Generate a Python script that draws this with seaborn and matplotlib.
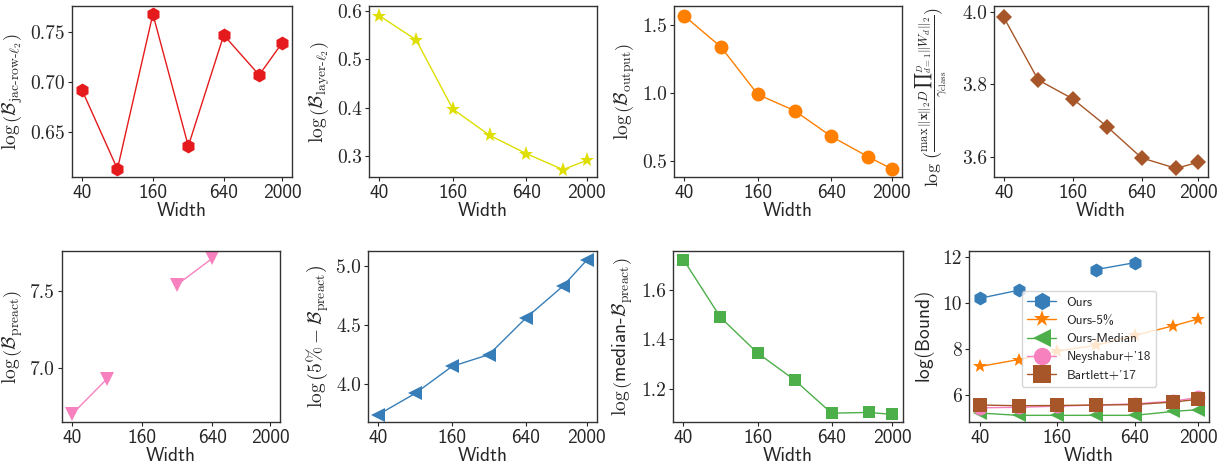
import numpy as np
import pandas as pd
import seaborn as sns
import matplotlib.pyplot as plt

sns.set_style("ticks")
plt.rcParams["mathtext.fontset"] = "cm"
plt.rcParams["axes.edgecolor"] = "#333333"
plt.rcParams["axes.linewidth"] = 1.0

# ---- data ----
widths = [40, 80, 160, 320, 640, 1280, 2000]
tick_widths = [40, 160, 640, 2000]

jac_row = [0.692, 0.613, 0.768, 0.636, 0.747, 0.707, 0.739]
layer_l2 = [0.590, 0.540, 0.397, 0.343, 0.305, 0.272, 0.291]
output_b = [1.57, 1.34, 0.99, 0.87, 0.68, 0.53, 0.44]
margin_b = [3.985, 3.812, 3.760, 3.683, 3.597, 3.568, 3.585]
preact = [6.70, 6.93, np.nan, 7.54, 7.71, np.nan, np.nan]
preact_5 = [3.74, 3.92, 4.15, 4.25, 4.56, 4.83, 5.05]
preact_med = [1.725, 1.49, 1.345, 1.235, 1.100, 1.103, 1.095]

bound_ours = [10.2, 10.55, np.nan, 11.45, 11.75, np.nan, np.nan]
bound_ours5 = [7.23, 7.53, 7.90, 8.15, 8.58, 9.00, 9.30]
bound_median = [5.20, 5.10, 5.10, 5.10, 5.10, 5.27, 5.35]
bound_neyshabur = [5.43, 5.45, 5.50, 5.55, 5.60, 5.72, 5.88]
bound_bartlett = [5.55, 5.52, 5.53, 5.55, 5.57, 5.68, 5.80]
methods = ["Ours", "Ours-5%", "Ours-Median", "Neyshabur+'18", "Bartlett+'17"]

colors = {"blue": "#377eb8", "orange": "#ff7f00", "green": "#4daf4a",
          "pink": "#f781bf", "brown": "#a65628", "red": "#e41a1c",
          "yellow": "#dede00"}


def segments(vals, label=None):
    # split a series at NaN gaps so the line is broken there
    df = pd.DataFrame({"width": widths, "value": vals})
    df["seg"] = df["value"].isna().cumsum()
    if label is not None:
        df["method"] = label
    return df.dropna()


fig = plt.figure(figsize=(12.31, 4.66), dpi=100)
positions = [
    [0.0585, 0.620, 0.1787, 0.367],
    [0.2998, 0.620, 0.1852, 0.367],
    [0.5475, 0.620, 0.1852, 0.367],
    [0.8075, 0.620, 0.1738, 0.367],
    [0.0504, 0.0944, 0.1771, 0.367],
    [0.2989, 0.0944, 0.1860, 0.367],
    [0.5467, 0.0944, 0.1868, 0.367],
    [0.7872, 0.0944, 0.1950, 0.367],
]
axes = [fig.add_axes(p) for p in positions]

panels = [
    (jac_row, "red", "h", r"$\log\left(\mathcal{B}_{\mathrm{jac\text{-}row\text{-}}\ell_2}\right)$",
     (0.605, 0.776), [0.65, 0.70, 0.75], "%.2f"),
    (layer_l2, "yellow", "*", r"$\log\left(\mathcal{B}_{\mathrm{layer\text{-}}\ell_2}\right)$",
     (0.2566, 0.610), [0.3, 0.4, 0.5, 0.6], "%.1f"),
    (output_b, "orange", "o", r"$\log\left(\mathcal{B}_{\mathrm{output}}\right)$",
     (0.379, 1.643), [0.5, 1.0, 1.5], "%.1f"),
    (margin_b, "brown", "D",
     r"$\log\,(\frac{\max\,\|\mathbf{x}\|_2 D\,{\prod}_{d=1}^{D}\|W_d\|_2}{\gamma_{\mathrm{class}}})$",
     (3.544, 4.016), [3.6, 3.8, 4.0], "%.1f"),
    (preact, "pink", "v", r"$\log\left(\mathcal{B}_{\mathrm{preact}}\right)$",
     (6.65, 7.757), [7.0, 7.5], "%.1f"),
    (preact_5, "blue", "<", r"$\log\left(5\% - \mathcal{B}_{\mathrm{preact}}\right)$",
     (3.677, 5.13), [4.0, 4.5, 5.0], "%.1f"),
    (preact_med, "green", "s", r"$\log\left(\mathsf{median}\text{-}\mathcal{B}_{\mathrm{preact}}\right)$",
     (1.064, 1.76), [1.2, 1.4, 1.6], "%.1f"),
]

msizes = {"h": 10, "*": 11, "o": 10, "D": 8.5, "v": 10, "<": 10, "s": 9}

for ax, (vals, cname, mk, ylabel, ylim, yticks, fmt) in zip(axes[:7], panels):
    df = segments(vals)
    sns.lineplot(data=df, x="width", y="value", units="seg", estimator=None,
                 marker=mk, markersize=msizes[mk], color=colors[cname],
                 linewidth=1, markeredgewidth=0, sort=False, ax=ax)
    ax.set_ylim(*ylim)
    ax.set_yticks(yticks)
    ax.set_yticklabels([fmt % t for t in yticks], family="cmr10", fontsize=14)
    ax.set_ylabel(ylabel, fontsize=14)

axes[3].set_ylabel(panels[3][3], fontsize=13)
axes[3].yaxis.set_label_coords(-0.2, 0.47)

# ---- bound comparison panel ----
bound_df = pd.concat([
    segments(bound_ours, methods[0]),
    segments(bound_ours5, methods[1]),
    segments(bound_median, methods[2]),
    segments(bound_neyshabur, methods[3]),
    segments(bound_bartlett, methods[4]),
])
ax8 = axes[7]
sns.lineplot(data=bound_df, x="width", y="value", hue="method", style="method",
             units="seg", estimator=None, hue_order=methods, style_order=methods,
             palette=[colors["blue"], colors["orange"], colors["green"],
                      colors["pink"], colors["brown"]],
             markers=["h", "*", "<", "o", "s"], dashes=False,
             markersize=10, linewidth=1, markeredgewidth=0, sort=False, ax=ax8)
ax8.set_ylim(4.81, 12.26)
ax8.set_yticks([6, 8, 10, 12])
ax8.set_yticklabels(["6", "8", "10", "12"], family="cmr10", fontsize=14)
ax8.set_ylabel(r"$\mathsf{log(Bound)}$", fontsize=14)
leg = ax8.legend(loc="center", bbox_to_anchor=(0.5, 0.485), title=None,
                 prop={"family": "cmss10", "size": 9.5}, markerscale=1.25,
                 framealpha=0.8, labelspacing=0.45, handlelength=2.2)

lo = 40 / 2 ** 0.282
hi = 2000 * 2 ** 0.282
for ax in axes:
    ax.set_xscale("log", base=2)
    ax.set_xlim(lo, hi)
    ax.set_xticks(tick_widths)
    ax.set_xticklabels([str(w) for w in tick_widths], family="cmss10", fontsize=14)
    ax.minorticks_off()
    ax.tick_params(length=3, width=0.8, pad=2)
    ax.set_xlabel("Width", family="cmss10", fontsize=14, labelpad=0)

fig.savefig("out.png", dpi=100)
